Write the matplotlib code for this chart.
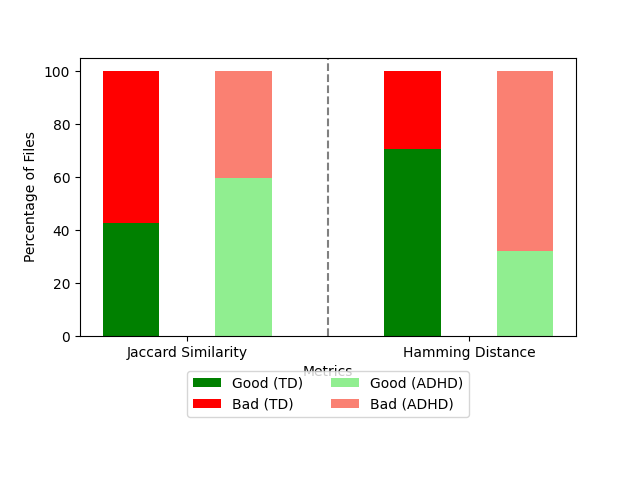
import matplotlib
matplotlib.use('Agg')
import matplotlib.pyplot as plt
import numpy as np

metrics = ['Jaccard Similarity', 'Hamming Distance']
good_td = [42.6, 70.6]
good_adhd = [59.6, 32.1]
bad_td = [100 - v for v in good_td]
bad_adhd = [100 - v for v in good_adhd]

x = np.arange(len(metrics))
w = 0.2

fig, ax = plt.subplots(figsize=(6.4, 4.8))
fig.subplots_adjust(left=0.125, right=0.9, top=0.879, bottom=0.3)
ax.bar(x - w, good_td, w, color='green', label='Good (TD)')
ax.bar(x - w, bad_td, w, bottom=good_td, color='red', label='Bad (TD)')
ax.bar(x + w, good_adhd, w, color='lightgreen', label='Good (ADHD)')
ax.bar(x + w, bad_adhd, w, bottom=good_adhd, color='salmon', label='Bad (ADHD)')
ax.axvline(0.5, color='gray', linestyle='--')
ax.set_xticks(x)
ax.set_xticklabels(metrics)
ax.set_xlabel('Metrics')
ax.set_ylabel('Percentage of Files')
ax.legend(loc='upper center', bbox_to_anchor=(0.5, -0.1), ncol=2)
plt.savefig('out.png', dpi=100)
